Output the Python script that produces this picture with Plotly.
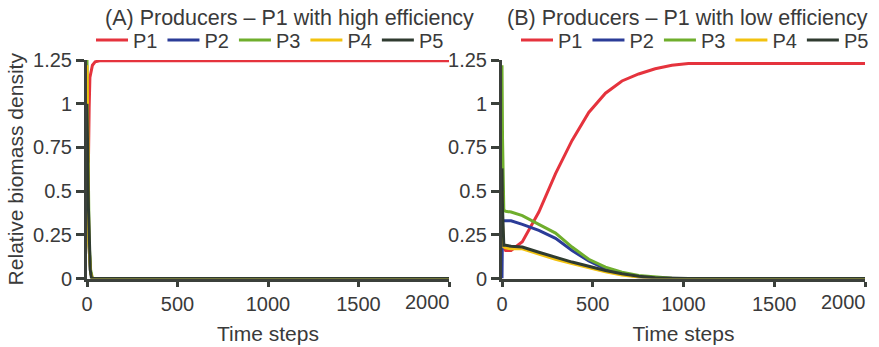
import plotly.graph_objects as go

# ---------------- data ----------------
series_names = ["P1", "P2", "P3", "P4", "P5"]
series_colors = ["#e5333d", "#2b3c98", "#6fae2c", "#f2c20f", "#2f3b30"]

# Panel A: P1 with high efficiency
tA_P1 = [0, 8, 12, 16, 22, 30, 45, 70, 2000]
A_P1 = [0.65, 0.67, 0.98, 1.15, 1.18, 1.22, 1.24, 1.245, 1.245]
tA_P2 = [0, 5, 10, 20, 30, 2000]
A_P2 = [0.9, 0.5, 0.2, 0.03, 0.0, 0.0]
tA_P3 = [0, 3, 8, 12, 20, 30, 2000]
A_P3 = [1.25, 0.87, 0.43, 0.2, 0.05, 0.0, 0.0]
tA_P4 = [0, 4, 10, 20, 30, 2000]
A_P4 = [1.22, 0.6, 0.2, 0.03, 0.0, 0.0]
tA_P5 = [0, 3, 8, 12, 18, 25, 2000]
A_P5 = [1.0, 0.6, 0.4, 0.27, 0.05, 0.0, 0.0]

# Panel B: P1 with low efficiency
tB = [0, 3, 10, 20, 50, 112, 203, 295, 386, 478, 570, 661, 753, 844, 936, 1027, 1200, 2000]
B_P1 = [0.21, 0.20, 0.18, 0.16, 0.16, 0.21, 0.38, 0.60, 0.79, 0.95, 1.06, 1.13, 1.17, 1.20, 1.22, 1.23, 1.23, 1.23]
B_P2 = [0.0, 0.33, 0.33, 0.33, 0.33, 0.31, 0.275, 0.23, 0.16, 0.10, 0.055, 0.027, 0.008, 0.0, 0.0, 0.0, 0.0, 0.0]
B_P3 = [1.22, 0.80, 0.39, 0.385, 0.38, 0.36, 0.31, 0.26, 0.18, 0.11, 0.065, 0.036, 0.017, 0.008, 0.002, 0.0, 0.0, 0.0]
B_P4 = [0.5, 0.3, 0.18, 0.175, 0.17, 0.17, 0.14, 0.11, 0.085, 0.06, 0.038, 0.02, 0.008, 0.002, 0.0, 0.0, 0.0, 0.0]
B_P5 = [0.63, 0.4, 0.19, 0.19, 0.185, 0.18, 0.15, 0.12, 0.094, 0.07, 0.046, 0.027, 0.013, 0.004, 0.0, 0.0, 0.0, 0.0]

x_tickvals = [0, 500, 1000, 1500, 2000]
x_ticktext = ["0", "500", "1000", "1500", ""]   # last label is placed as an annotation (shifted left)
x_last_label = "2000"
y_tickvals = [0, 0.25, 0.5, 0.75, 1, 1.25]
y_ticktext = ["0", "0.25", "0.5", "0.75", "1", "1.25"]
titles = ["(A) Producers \u2013 P1 with high efficiency", "(B) Producers \u2013 P1 with low efficiency"]
x_title = "Time steps"
y_title = "Relative biomass density"

# ---------------- figure ----------------
W, H = 879, 347
FONT = "Liberation Sans, Arial, sans-serif"
TXT = "#3a3a3a"
AX = "#3b403b"

fig = go.Figure()

panelA = [(tA_P1, A_P1), (tA_P2, A_P2), (tA_P3, A_P3), (tA_P4, A_P4), (tA_P5, A_P5)]
panelB = [(tB, B_P1), (tB, B_P2), (tB, B_P3), (tB, B_P4), (tB, B_P5)]

for i, (t, v) in enumerate(panelA):
    fig.add_trace(go.Scatter(x=t, y=v, mode="lines", name=series_names[i],
                             line=dict(color=series_colors[i], width=3),
                             xaxis="x", yaxis="y", legend="legend"))
for i, (t, v) in enumerate(panelB):
    fig.add_trace(go.Scatter(x=t, y=v, mode="lines", name=series_names[i],
                             line=dict(color=series_colors[i], width=3),
                             xaxis="x2", yaxis="y2", legend="legend2"))

def px_x(p):
    return p / W

def px_y(p):
    return 1 - p / H

ydom = [px_y(278.5), px_y(60)]

common_x = dict(range=[0, 2000], tickvals=x_tickvals, ticktext=x_ticktext, showline=True, linecolor=AX,
                linewidth=3, ticks="outside", ticklen=5, tickwidth=3, tickcolor=AX, showgrid=False,
                zeroline=False, automargin=False,
                tickfont=dict(size=20, color=TXT, family=FONT),
                title=dict(text=x_title, font=dict(size=21, color=TXT, family=FONT), standoff=13))
common_y = dict(range=[0, 1.25], tickvals=y_tickvals, ticktext=y_ticktext, showline=True, linecolor=AX,
                linewidth=3, ticks="outside", ticklen=8, tickwidth=3, tickcolor=AX, showgrid=False,
                zeroline=False, automargin=False, tickfont=dict(size=20, color=TXT, family=FONT), domain=ydom)

annotations = [
    dict(text=titles[0], x=px_x(289), y=px_y(18), xref="paper", yref="paper", showarrow=False,
         xanchor="center", yanchor="middle", font=dict(size=21.5, color=TXT, family=FONT)),
    dict(text=titles[1], x=px_x(687), y=px_y(18), xref="paper", yref="paper", showarrow=False,
         xanchor="center", yanchor="middle", font=dict(size=21.5, color=TXT, family=FONT)),
]
for xr in ["x", "x2"]:
    annotations.append(dict(text=x_last_label, x=x_tickvals[-1], xref=xr, y=px_y(302), yref="paper",
                            showarrow=False, xanchor="right", yanchor="middle", xshift=3,
                            font=dict(size=20, color=TXT, family=FONT)))

fig.update_layout(
    width=W, height=H,
    margin=dict(l=0, r=0, t=0, b=0, autoexpand=False),
    paper_bgcolor="white", plot_bgcolor="white",
    font=dict(family=FONT, color=TXT),
    xaxis=dict(domain=[px_x(87), px_x(449)], anchor="y", **common_x),
    xaxis2=dict(domain=[px_x(502), px_x(865)], anchor="y2", **common_x),
    yaxis=dict(anchor="x", title=dict(text=y_title, font=dict(size=21, color=TXT, family=FONT), standoff=4),
               **common_y),
    yaxis2=dict(anchor="x2", **common_y),
    legend=dict(orientation="h", x=px_x(91), y=px_y(40), xanchor="left", yanchor="middle",
                font=dict(size=20, color=TXT, family=FONT), itemwidth=32, bgcolor="rgba(0,0,0,0)",
                tracegroupgap=0),
    legend2=dict(orientation="h", x=px_x(516), y=px_y(40), xanchor="left", yanchor="middle",
                 font=dict(size=20, color=TXT, family=FONT), itemwidth=32, bgcolor="rgba(0,0,0,0)",
                 tracegroupgap=0),
    annotations=annotations,
    showlegend=True,
)

fig.write_html("out.html", config={"displayModeBar": False},
               post_script="document.body.style.margin='0px';")
